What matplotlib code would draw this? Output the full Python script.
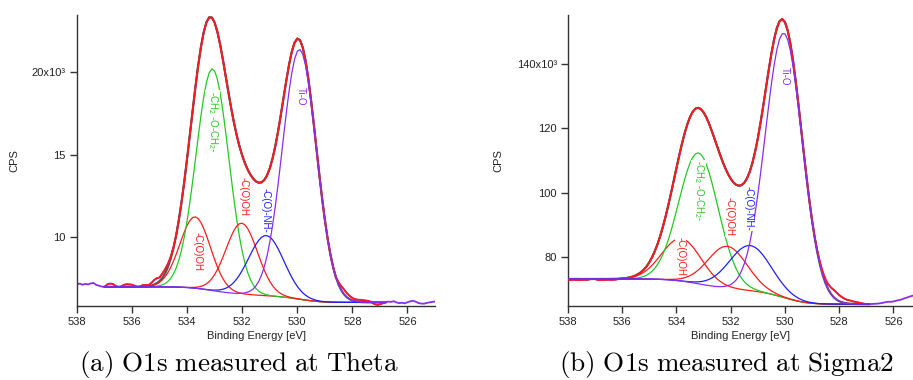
import numpy as np
import matplotlib
matplotlib.use("Agg")
import matplotlib.pyplot as plt

plt.rcParams['font.family'] = ['Liberation Sans', 'DejaVu Sans']
plt.rcParams['mathtext.fontset'] = 'custom'
plt.rcParams['mathtext.rm'] = 'Liberation Sans'
plt.rcParams['mathtext.it'] = 'Liberation Sans:italic'

# ---- fit components (same order in both panels) ----
comp_labels = ['-C(O)OH', '-CH$_2$ -O-CH$_2$-', '-C(O)OH', '-C(O)-NH-', 'Ti-O']
comp_colors = ['#ff1a1a', '#22c822', '#ff1a1a', '#1e1eff', '#8a2cf2']

# panel (a): measured at Theta
a_center = [533.71, 533.08, 532.02, 531.13, 529.92]
a_height = [4330, 13450, 4300, 3650, 15150]
a_fwhm = [1.30, 1.40, 1.35, 1.50, 1.45]
a_bg = (6990, 6050)          # Shirley end values: high BE side, low BE side
a_fit = (537.0, 526.8)       # fit window (eV)
a_lbl_pos = [(533.63, 9150), (533.08, 17030), (531.96, 12480), (531.14, 11640), (529.89, 18580)]
a_raw_hi = [7150, 7190, 7120, 7170, 7140, 7200, 7230, 7110, 7060, 7010]          # 538.0 .. 537.1
a_raw_lo = [6100, 6080, 6120, 6050, 6000, 6030, 5990, 6060, 6110, 6150,
            6090, 6010, 5980, 5970, 6020, 6050, 6080, 6100]                        # 526.7 .. 525.0
a_res_hi = [0, 150, 200, 180, 60, 0, 20, 120, 160, 150, 130, 60, 0, 30, 100,
            90, 60, 150, 280, 300, 220, 260, 250, 200, 120, 40]                    # 537.0 .. 534.5
a_res_lo = [0, 150, 250, 300, 250, 200, 150, 120, 120, 130, 120, 100, 80, 0,
            -100, -150, -120, -50, 0]                                               # 528.6 .. 526.8
a_yticks = [10000, 15000, 20000]
a_ylabels = ['10', '15', '20x10³']
a_ylim = (5830, 23480)

# panel (b): measured at Sigma2
b_center = [533.82, 533.19, 532.12, 531.28, 530.04]
b_height = [13200, 40600, 13000, 14000, 82000]
b_fwhm = [1.70, 1.70, 1.70, 1.80, 1.60]
b_bg = (73300, 65500)
b_fit = (538.0, 526.9)
b_lbl_pos = [(533.85, 80200), (533.19, 100600), (532.03, 92590), (531.34, 95180), (530.02, 136230)]
b_raw_hi = []
b_raw_lo = [65550, 65600, 65650, 65750, 65900, 66100, 66250, 66200, 66350, 66550,
            66750, 66950, 67300, 67550, 67850, 68100]                              # 526.8 .. 525.3
b_res_hi = [-300, -300, -250, -300, -350, -300, -250, -300, -100, 0, 0, -300,
            -350, -300, -300, -250, -300, -300, -200, 0, 0]                        # 538.0 .. 536.0
b_res_lo = [200, 500, 800, 1000, 1200, 1600, 2000, 2300, 2200, 1900, 1600, 1300,
            1100, 1000, 800, 600, 500, 300, 150, 0, 0]                             # 528.9 .. 526.9
b_yticks = [80000, 100000, 120000, 140000]
b_ylabels = ['80', '100', '120', '140x10³']
b_ylim = (64920, 155150)

xticks = [538, 536, 534, 532, 530, 528, 526]
STEP = 0.1


def gaussian(x, c, h, w):
    s = w / 2.3548
    return h * np.exp(-0.5 * ((x - c) / s) ** 2)


def draw_panel(ax, centers, heights, fwhms, bg, fit, lbl_pos, raw_hi, raw_lo,
               res_hi, res_lo, res_lo_start, yticks, ylabels, ylim, xright):
    n_fit = int(round((fit[0] - fit[1]) / STEP)) + 1
    x = fit[0] - STEP * np.arange(n_fit)           # descending BE
    comps = [gaussian(x, c, h, w) for c, h, w in zip(centers, heights, fwhms)]
    total = np.sum(comps, axis=0)
    # Shirley background: area accumulated from the low-BE end
    cum = np.cumsum(total[::-1])[::-1]
    shirley = bg[1] + (bg[0] - bg[1]) * cum / cum[0]
    env = shirley + total

    data = env.copy()
    data[:len(res_hi)] += res_hi
    i0 = int(round((fit[0] - res_lo_start) / STEP))
    data[i0:i0 + len(res_lo)] += res_lo

    x_hi = fit[0] + STEP * np.arange(len(raw_hi), 0, -1)
    x_lo = fit[1] - STEP * np.arange(1, len(raw_lo) + 1)
    raw_x = np.concatenate([x_hi, x, x_lo])
    raw_y = np.concatenate([raw_hi, data, raw_lo])

    ax.plot(raw_x, raw_y, color=comp_colors[4], lw=1.3, zorder=2)
    ax.plot(x, env, color='#555555', lw=1.6, zorder=3)
    ax.plot(x, data, color='#ff1a1a', lw=1.25, zorder=4)
    for comp, col in zip(comps, comp_colors):
        ax.plot(x, comp + shirley, color=col, lw=0.9, zorder=5)

    for lbl, (lx, ly), col in zip(comp_labels, lbl_pos, comp_colors):
        ax.text(lx, ly, lbl, color=col, rotation=-90, fontsize=7.0,
                ha='center', va='center', zorder=6,
                bbox=dict(facecolor='white', edgecolor='none', pad=0.3))

    ax.set_xlim(538, xright)
    ax.set_ylim(*ylim)
    ax.set_xticks(xticks)
    ax.set_xticklabels([str(t) for t in xticks])
    ax.set_yticks(yticks)
    ax.set_yticklabels(ylabels)
    for side in ['top', 'right']:
        ax.spines[side].set_visible(False)
    for side in ['left', 'bottom']:
        ax.spines[side].set_color('#333333')
        ax.spines[side].set_linewidth(1.0)
    ax.tick_params(direction='out', length=5, width=1, color='#333333',
                   labelsize=8, labelcolor='#222222', pad=3)
    ax.text(0.5, -0.103, 'Binding Energy [eV]', transform=ax.transAxes,
            ha='center', va='center', fontsize=8, color='#222222')


fig = plt.figure(figsize=(9.13, 3.8), dpi=100)
ax_a = fig.add_axes([0.0843, 0.1947, 0.3922, 0.7658])
ax_b = fig.add_axes([0.6221, 0.1947, 0.3779, 0.7658])

draw_panel(ax_a, a_center, a_height, a_fwhm, a_bg, a_fit, a_lbl_pos, a_raw_hi, a_raw_lo,
           a_res_hi, a_res_lo, 528.6, a_yticks, a_ylabels, a_ylim, 525.0)
draw_panel(ax_b, b_center, b_height, b_fwhm, b_bg, b_fit, b_lbl_pos, b_raw_hi, b_raw_lo,
           b_res_hi, b_res_lo, 528.9, b_yticks, b_ylabels, b_ylim, 525.28)

ax_a.text(-0.176, 0.5, 'CPS', transform=ax_a.transAxes, rotation=90,
          ha='center', va='center', fontsize=8, color='#222222')
ax_b.text(-0.203, 0.5, 'CPS', transform=ax_b.transAxes, rotation=90,
          ha='center', va='center', fontsize=8, color='#222222')

fig.text(0.262, 0.025, r'$\mathrm{(a)\ O1s\ measured\ at\ Theta}$', math_fontfamily='cm',
         ha='center', va='baseline', fontsize=19.5)
fig.text(0.796, 0.025, r'$\mathrm{(b)\ O1s\ measured\ at\ Sigma2}$', math_fontfamily='cm',
         ha='center', va='baseline', fontsize=19.5)

fig.savefig('out.png', dpi=100)
